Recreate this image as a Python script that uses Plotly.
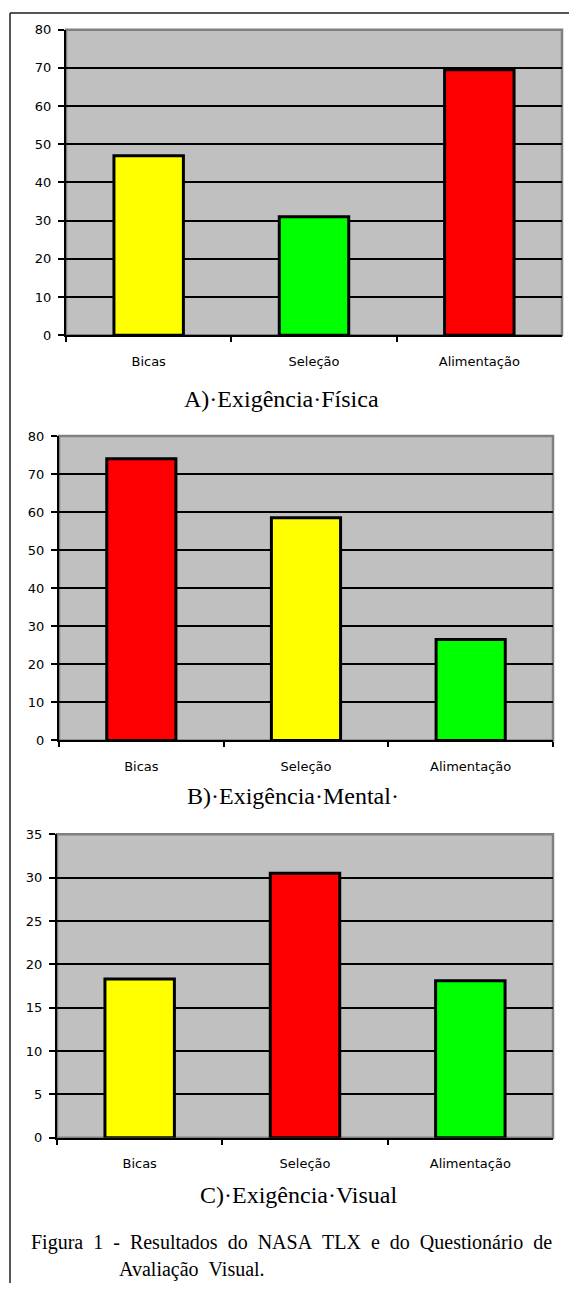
import plotly.graph_objects as go

W, H = 569, 1291

categories = ["Bicas", "Seleção", "Alimentação"]

fisica_values = [47, 31, 69.5]
fisica_colors = ["#FFFF00", "#00FF00", "#FF0000"]

mental_values = [74, 58.5, 26.5]
mental_colors = ["#FF0000", "#FFFF00", "#00FF00"]

visual_values = [18.3, 30.5, 18.1]
visual_colors = ["#FFFF00", "#FF0000", "#00FF00"]

titles = ["A)·Exigência·Física", "B)·Exigência·Mental·", "C)·Exigência·Visual"]
caption_1 = "Figura\u00a0\u00a01\u00a0\u00a0-\u00a0\u00a0Resultados\u00a0\u00a0do\u00a0\u00a0NASA\u00a0\u00a0TLX\u00a0\u00a0e\u00a0\u00a0do\u00a0\u00a0Questionário\u00a0\u00a0de"
caption_2 = "Avaliação\u00a0\u00a0Visual."

# panel geometry in pixels (left, right, top, bottom)
panels = [
    (66, 562, 23, 332, 80, 10),
    (59, 553, 434, 742, 80, 10),
    (57, 553, 837, 1144, 35, 5),
]
series = [(fisica_values, fisica_colors), (mental_values, mental_colors), (visual_values, visual_colors)]

fig = go.Figure()
tick_font = dict(family="DejaVu Sans", size=13, color="#000000")

for i, ((vals, cols), (l, r, t, b, ymax, dt)) in enumerate(zip(series, panels)):
    n = "" if i == 0 else str(i + 1)
    fig.add_trace(go.Bar(
        x=categories, y=vals, width=0.42,
        marker=dict(color=cols, line=dict(color="#000000", width=3)),
        xaxis="x" + n, yaxis="y" + n, showlegend=False, hoverinfo="x+y",
    ))
    fig.layout["xaxis" + n] = dict(
        domain=[l / W, r / W], anchor="y" + n,
        showline=True, linecolor="#000000", linewidth=2,
        ticks="outside", tickson="boundaries", ticklen=5, tickcolor="#000000", tickwidth=1.5,
        showgrid=False, tickfont=tick_font, ticklabelstandoff=13,
        fixedrange=True,
    )
    fig.layout["yaxis" + n] = dict(
        domain=[1 - b / H, 1 - t / H], anchor="x" + n,
        range=[0, ymax], dtick=dt, tick0=0,
        showline=True, linecolor="#000000", linewidth=2,
        ticks="outside", ticklen=6, tickcolor="#000000", tickwidth=1.5,
        showgrid=True, gridcolor="#000000", gridwidth=1.5, zeroline=False,
        tickfont=tick_font, ticklabelstandoff=4, fixedrange=True,
    )
    # grey plot-area frame
    fig.add_shape(type="rect", xref="x" + n + " domain", yref="y" + n + " domain",
                  x0=0, x1=1, y0=0, y1=1, line=dict(color="#808080", width=2.5), layer="below")

title_pos = [(281, 397), (293, 798), (298, 1202)]
for txt, (cx, cy) in zip(titles, title_pos):
    fig.add_annotation(text=txt, x=cx / W, y=1 - cy / H, xref="paper", yref="paper",
                       showarrow=False, xanchor="center", yanchor="middle",
                       font=dict(family="Liberation Serif", size=24, color="#000000"))

fig.add_annotation(text=caption_1, x=29 / W, y=1 - 1250 / H, xref="paper", yref="paper",
                   showarrow=False, xanchor="left", yanchor="middle",
                   font=dict(family="Liberation Serif", size=20, color="#000000"))
fig.add_annotation(text=caption_2, x=117 / W, y=1 - 1277 / H, xref="paper", yref="paper",
                   showarrow=False, xanchor="left", yanchor="middle",
                   font=dict(family="Liberation Serif", size=20, color="#000000"))

# page frame lines (top and left)
fig.add_shape(type="line", xref="paper", yref="paper", x0=10 / W, x1=1, y0=1 - 6 / H, y1=1 - 6 / H,
              line=dict(color="#555555", width=2))
fig.add_shape(type="line", xref="paper", yref="paper", x0=10 / W, x1=10 / W, y0=0, y1=1 - 6 / H,
              line=dict(color="#222222", width=1.5))

fig.update_layout(
    width=W, height=H, autosize=False,
    margin=dict(l=0, r=0, t=0, b=0),
    paper_bgcolor="#FFFFFF", plot_bgcolor="#C0C0C0",
    bargap=0.58,
)

fig.write_html("out.html", config={"displayModeBar": False},
               post_script="document.body.style.margin='0';")
